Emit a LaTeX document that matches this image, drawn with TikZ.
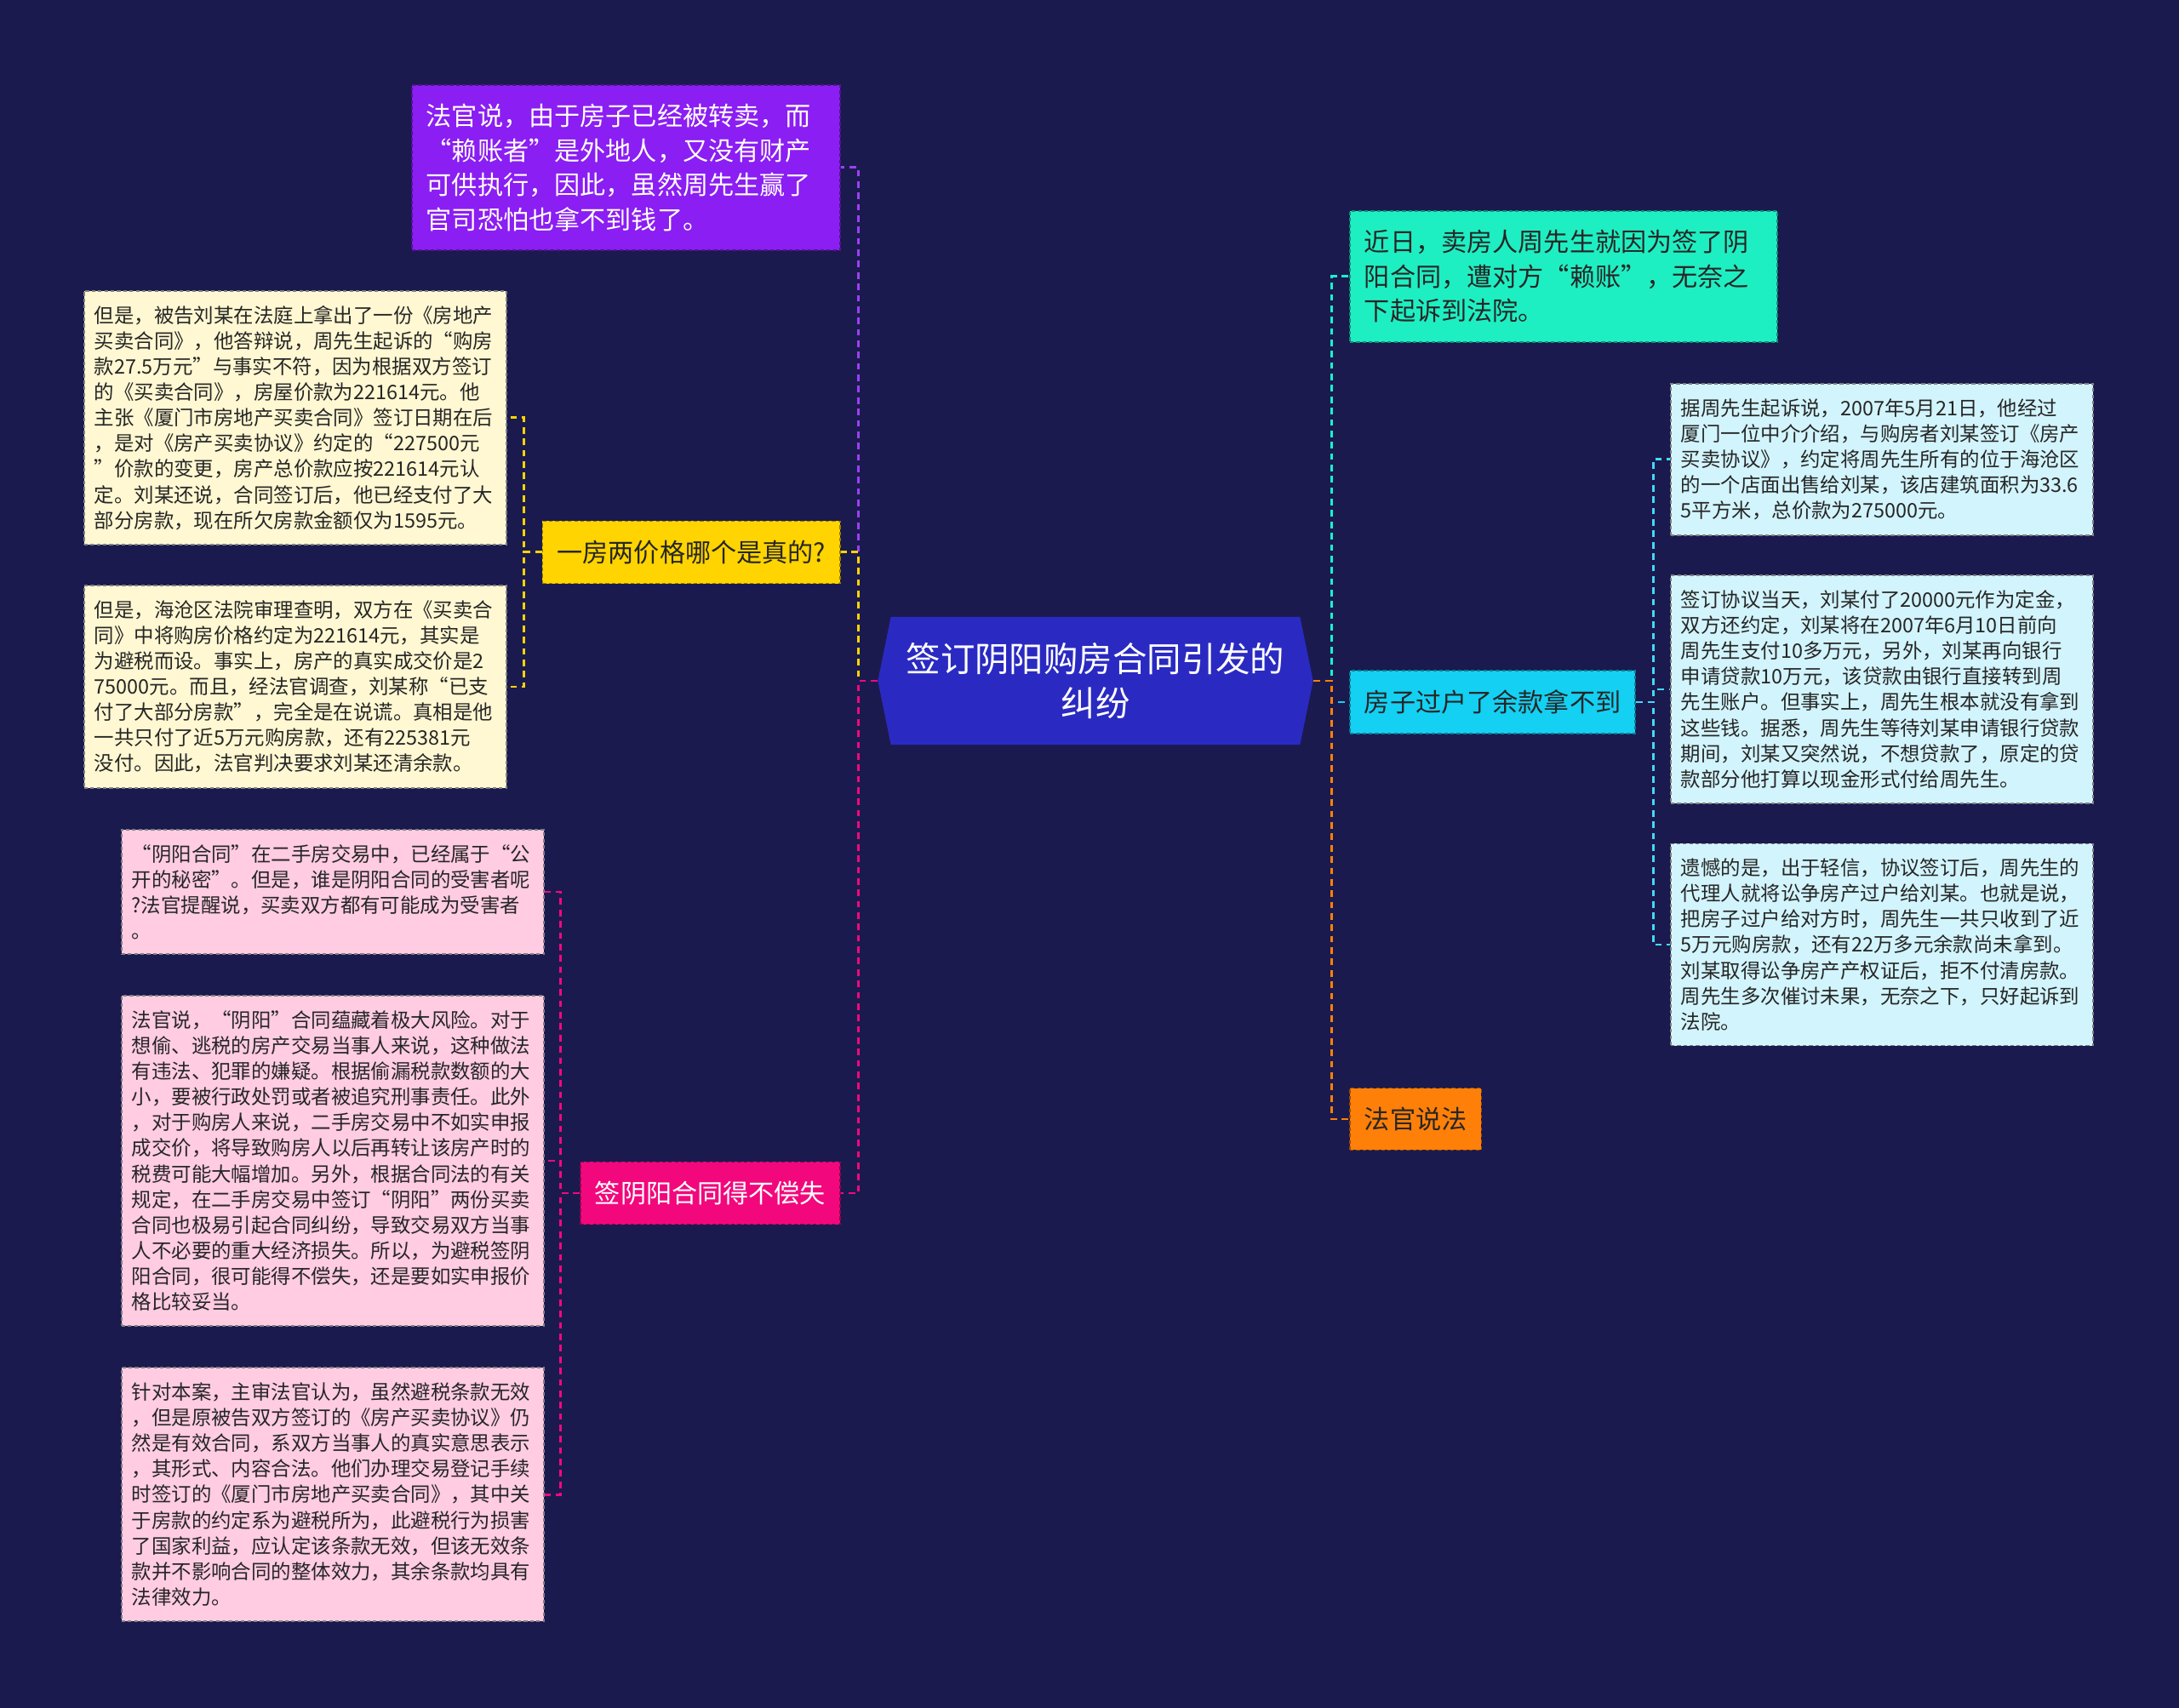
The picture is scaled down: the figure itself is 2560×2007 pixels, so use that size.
\documentclass[tikz,border=0pt]{standalone}
\usepackage{fontspec}
\newfontfamily\cjkfont{Noto Sans CJK SC}
\usetikzlibrary{shapes.symbols}

\definecolor{bgnavy}{HTML}{1B1A4F}
\definecolor{rootblue}{HTML}{2A2AC2}
\definecolor{judgepurple}{HTML}{8B1EF2}
\definecolor{priceyellow}{HTML}{FFD400}
\definecolor{riskpink}{HTML}{F2087C}
\definecolor{recentteal}{HTML}{1EEFC2}
\definecolor{transfercyan}{HTML}{14D0F2}
\definecolor{laworange}{HTML}{FF8008}
\definecolor{creamfill}{HTML}{FFF8D2}
\definecolor{pinkfill}{HTML}{FFCCE2}
\definecolor{cyanfill}{HTML}{D2F4FC}

\tikzset{
  mainbox/.style={inner xsep=0.17cm, inner ysep=0.225cm, align=left,
    font=\cjkfont\fontsize{8.57}{11.5}\selectfont,
    dash pattern=on 1.2pt off 0.9pt, line width=0.5pt},
  leafbox/.style={text width=4.72cm, inner xsep=0.12cm, inner ysep=0.175cm, align=left,
    font=\cjkfont\fontsize{6.66}{8.55}\selectfont,
    draw=black!50, dash pattern=on 1.2pt off 0.9pt, line width=0.5pt},
  link/.style={line width=0.85pt, dash pattern=on 2.2pt off 1.6pt},
}

\begin{document}
\begin{tikzpicture}[x=0.01cm,y=-0.01cm]
\fill[bgnavy] (0,0) rectangle (2560,2007);

% centre
\node[signal, signal to=west and east, signal pointer angle=157, fill=rootblue,
  minimum width=5.11cm, minimum height=1.5cm, inner sep=0pt, align=center, text=white,
  font=\cjkfont\fontsize{11.5}{14.8}\selectfont] (root) at (1287,800)
  {签订阴阳购房合同引发的\\纠纷};

% left branches
\node[mainbox, anchor=east, fill=judgepurple, draw=judgepurple!60!black, text=white, text width=4.69cm] (judge) at (988,197)
  {法官说，由于房子已经被转卖，而\\“赖账者”是外地人，又没有财产\\可供执行，因此，虽然周先生赢了\\官司恐怕也拿不到钱了。};
\node[mainbox, anchor=east, fill=priceyellow, draw=priceyellow!60!black, text=black!85] (price) at (988,649)
  {一房两价格哪个是真的?};
\node[mainbox, anchor=east, fill=riskpink, draw=riskpink!60!black, text=white] (risk) at (988,1402)
  {签阴阳合同得不偿失};

\node[leafbox, anchor=east, fill=creamfill, text=black!85] (price1) at (596,491)
  {但是，被告刘某在法庭上拿出了一份《房地产\\买卖合同》，他答辩说，周先生起诉的“购房\\款27.5万元”与事实不符，因为根据双方签订\\的《买卖合同》，房屋价款为221614元。他\\主张《厦门市房地产买卖合同》签订日期在后\\，是对《房产买卖协议》约定的“227500元\\”价款的变更，房产总价款应按221614元认\\定。刘某还说，合同签订后，他已经支付了大\\部分房款，现在所欠房款金额仅为1595元。};
\node[leafbox, anchor=east, fill=creamfill, text=black!85] (price2) at (596,807)
  {但是，海沧区法院审理查明，双方在《买卖合\\同》中将购房价格约定为221614元，其实是\\为避税而设。事实上，房产的真实成交价是2\\75000元。而且，经法官调查，刘某称“已支\\付了大部分房款”，完全是在说谎。真相是他\\一共只付了近5万元购房款，还有225381元\\没付。因此，法官判决要求刘某还清余款。};

\node[leafbox, anchor=east, fill=pinkfill, text=black!85] (risk1) at (640,1048)
  {“阴阳合同”在二手房交易中，已经属于“公\\开的秘密”。但是，谁是阴阳合同的受害者呢\\?法官提醒说，买卖双方都有可能成为受害者\\。};
\node[leafbox, anchor=east, fill=pinkfill, text=black!85] (risk2) at (640,1364)
  {法官说，“阴阳”合同蕴藏着极大风险。对于\\想偷、逃税的房产交易当事人来说，这种做法\\有违法、犯罪的嫌疑。根据偷漏税款数额的大\\小，要被行政处罚或者被追究刑事责任。此外\\，对于购房人来说，二手房交易中不如实申报\\成交价，将导致购房人以后再转让该房产时的\\税费可能大幅增加。另外，根据合同法的有关\\规定，在二手房交易中签订“阴阳”两份买卖\\合同也极易引起合同纠纷，导致交易双方当事\\人不必要的重大经济损失。所以，为避税签阴\\阳合同，很可能得不偿失，还是要如实申报价\\格比较妥当。};
\node[leafbox, anchor=east, fill=pinkfill, text=black!85] (risk3) at (640,1756)
  {针对本案，主审法官认为，虽然避税条款无效\\，但是原被告双方签订的《房产买卖协议》仍\\然是有效合同，系双方当事人的真实意思表示\\，其形式、内容合法。他们办理交易登记手续\\时签订的《厦门市房地产买卖合同》，其中关\\于房款的约定系为避税所为，此避税行为损害\\了国家利益，应认定该条款无效，但该无效条\\款并不影响合同的整体效力，其余条款均具有\\法律效力。};

% right branches
\node[mainbox, anchor=west, fill=recentteal, draw=recentteal!60!black, text=black!85, text width=4.68cm] (recent) at (1585,325)
  {近日，卖房人周先生就因为签了阴\\阳合同，遭对方“赖账”，无奈之\\下起诉到法院。};
\node[mainbox, anchor=west, fill=transfercyan, draw=transfercyan!60!black, text=black!85] (transfer) at (1585,825)
  {房子过户了余款拿不到};
\node[mainbox, anchor=west, fill=laworange, draw=laworange!60!black, text=black!85] (law) at (1585,1315)
  {法官说法};

\node[leafbox, anchor=west, fill=cyanfill, text=black!85] (transfer1) at (1962,540)
  {据周先生起诉说，2007年5月21日，他经过\\厦门一位中介介绍，与购房者刘某签订《房产\\买卖协议》，约定将周先生所有的位于海沧区\\的一个店面出售给刘某，该店建筑面积为33.6\\5平方米，总价款为275000元。};
\node[leafbox, anchor=west, fill=cyanfill, text=black!85] (transfer2) at (1962,810)
  {签订协议当天，刘某付了20000元作为定金，\\双方还约定，刘某将在2007年6月10日前向\\周先生支付10多万元，另外，刘某再向银行\\申请贷款10万元，该贷款由银行直接转到周\\先生账户。但事实上，周先生根本就没有拿到\\这些钱。据悉，周先生等待刘某申请银行贷款\\期间，刘某又突然说，不想贷款了，原定的贷\\款部分他打算以现金形式付给周先生。};
\node[leafbox, anchor=west, fill=cyanfill, text=black!85] (transfer3) at (1962,1110)
  {遗憾的是，出于轻信，协议签订后，周先生的\\代理人就将讼争房产过户给刘某。也就是说，\\把房子过户给对方时，周先生一共只收到了近\\5万元购房款，还有22万多元余款尚未拿到。\\刘某取得讼争房产产权证后，拒不付清房款。\\周先生多次催讨未果，无奈之下，只好起诉到\\法院。};

% links
\draw[link, draw=judgepurple!85!white] (root.west) -- ++(-22,0) |- (judge.east);
\draw[link, draw=priceyellow] (root.west) -- ++(-22,0) |- (price.east);
\draw[link, draw=riskpink] (root.west) -- ++(-22,0) |- (risk.east);
\draw[link, draw=recentteal!80!cyan] (root.east) -- ++(21,0) |- (recent.west);
\draw[link, draw=transfercyan] (root.east) -- ++(21,0) |- (transfer.west);
\draw[link, draw=laworange] (root.east) -- ++(21,0) |- (law.west);

\draw[link, draw=priceyellow] (price.west) -- ++(-21,0) |- (price1.east);
\draw[link, draw=priceyellow] (price.west) -- ++(-21,0) |- (price2.east);
\draw[link, draw=riskpink] (risk.west) -- ++(-22,0) |- (risk1.east);
\draw[link, draw=riskpink] (risk.west) -- ++(-22,0) |- (risk2.east);
\draw[link, draw=riskpink] (risk.west) -- ++(-22,0) |- (risk3.east);
\draw[link, draw=transfercyan!80!white] (transfer.east) -- ++(20,0) |- (transfer1.west);
\draw[link, draw=transfercyan!80!white] (transfer.east) -- ++(20,0) |- (transfer2.west);
\draw[link, draw=transfercyan!80!white] (transfer.east) -- ++(20,0) |- (transfer3.west);
\end{tikzpicture}
\end{document}
